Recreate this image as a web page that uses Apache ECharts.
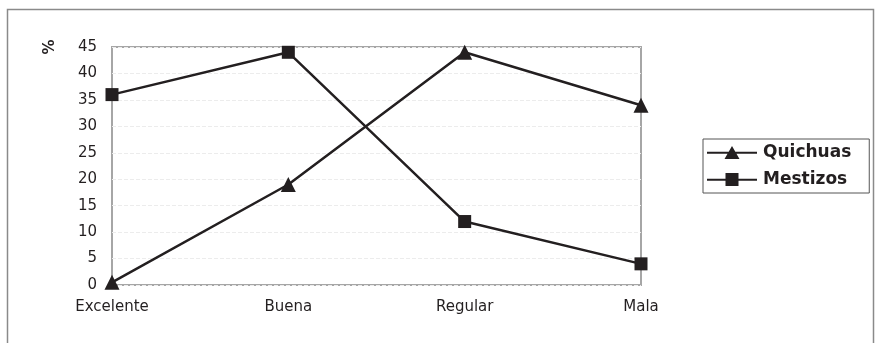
<!DOCTYPE html>
<html>
<head>
<meta charset="utf-8">
<script src="https://cdn.jsdelivr.net/npm/echarts@6/dist/echarts.min.js"></script>
<style>
  html, body { margin: 0; padding: 0; background: #fff; }
  #chart { width: 875px; height: 343px; }
</style>
</head>
<body>
<div id="chart"></div>
<script>
const categories = ['Excelente', 'Buena', 'Regular', 'Mala']
const quichuas = [0.5, 19, 44, 34]
const mestizos = [36, 44, 12, 4]
const yTicks = [0, 5, 10, 15, 20, 25, 30, 35, 40, 45]

const ink = '#231f20'
const font = 'DejaVu Sans'

// legend keys: a line with the marker in the middle
const triKey = 'path://M0,6.8H50V8.8H0Z M17.5,14L25,1L32.5,14Z'
const sqKey = 'path://M0,6.8H50V8.8H0Z M18.5,1H31.5V14H18.5Z'

const chart = echarts.init(document.getElementById('chart'), null, { renderer: 'canvas' })
chart.setOption({
  animation: false,
  backgroundColor: '#fff',
  textStyle: { fontFamily: font },
  graphic: [
    {
      type: 'rect',
      shape: { x: 7.5, y: 9.5, width: 866, height: 340 },
      style: { fill: 'none', stroke: '#8a8a8a', lineWidth: 1.5 },
      silent: true
    },
    {
      // y axis unit, drawn sideways like the original
      type: 'text',
      x: 46,
      y: 47,
      rotation: -Math.PI / 2,
      style: { text: '%', fill: ink, font: 'bold 15px DejaVu Sans', align: 'center', verticalAlign: 'middle' },
      silent: true
    }
  ],
  grid: { left: 112, right: 234, top: 47, bottom: 58, show: true, borderColor: '#a6a6a6', borderWidth: 2 },
  legend: {
    orient: 'vertical',
    left: 703,
    top: 139,
    padding: [5, 18, 5, 4],
    itemGap: 10,
    itemWidth: 50,
    itemHeight: 15,
    borderColor: '#555',
    borderWidth: 1,
    textStyle: { fontSize: 17, fontWeight: 'bold', color: ink, fontFamily: font, padding: [0, 0, 0, 1] },
    data: [
      { name: 'Quichuas', icon: triKey },
      { name: 'Mestizos', icon: sqKey }
    ]
  },
  xAxis: {
    type: 'category',
    data: categories,
    boundaryGap: false,
    axisLine: { show: false },
    axisTick: { show: false },
    axisLabel: { color: ink, fontSize: 15, margin: 15 }
  },
  yAxis: {
    type: 'value',
    min: 0,
    max: 45,
    interval: 5,
    axisLine: { show: false },
    axisTick: { show: false },
    axisLabel: {
      color: ink,
      fontSize: 15,
      margin: 15,
      formatter: v => (yTicks.includes(v) ? String(v) : '')
    },
    splitLine: { show: true, lineStyle: { color: '#ececec', type: 'dashed', width: 1 } }
  },
  series: [
    {
      name: 'Quichuas',
      type: 'line',
      data: quichuas,
      symbol: 'triangle',
      symbolSize: 15,
      lineStyle: { color: ink, width: 2.5 },
      itemStyle: { color: ink },
      z: 3
    },
    {
      name: 'Mestizos',
      type: 'line',
      data: mestizos,
      symbol: 'rect',
      symbolSize: 13,
      lineStyle: { color: ink, width: 2.5 },
      itemStyle: { color: ink },
      z: 3
    }
  ]
})
</script>
</body>
</html>
